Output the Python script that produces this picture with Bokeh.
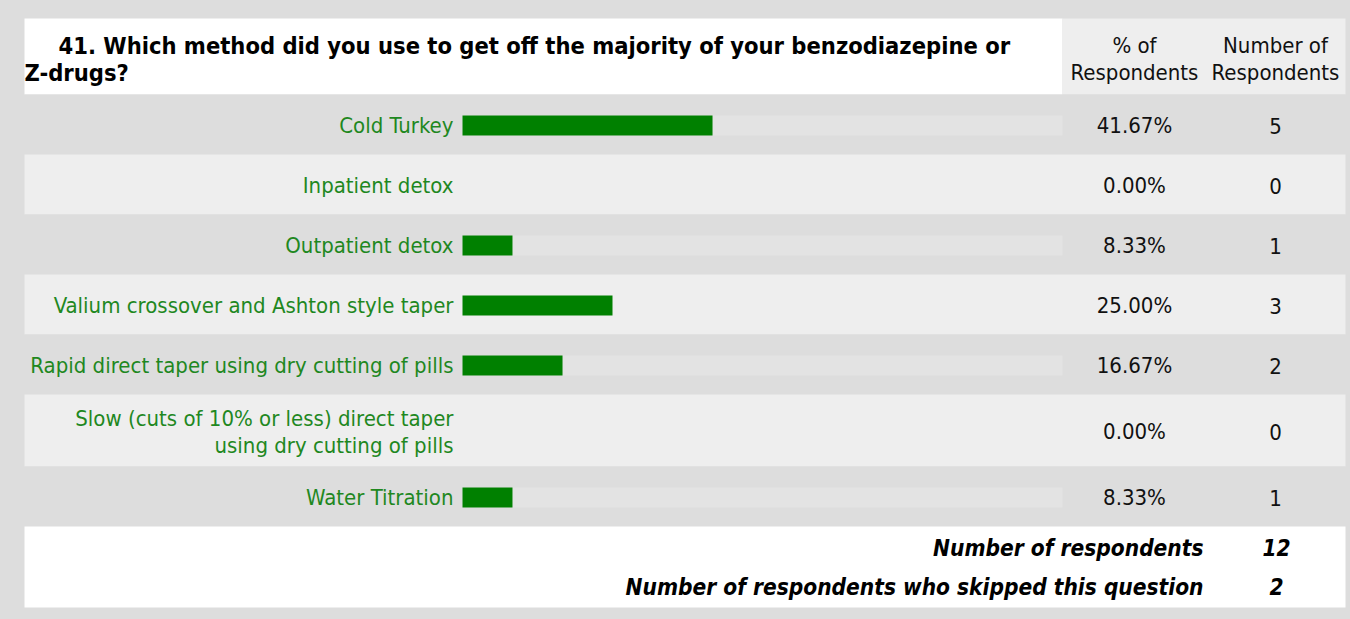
from bokeh.plotting import figure
from bokeh.models import Range1d, ColumnDataSource, GlobalInlineStyleSheet
from bokeh.core.properties import value
from bokeh.embed import file_html
from bokeh.resources import INLINE

# ---------------- data ----------------
question_lines = ["41. Which method did you use to get off the majority of your benzodiazepine or",
                  "Z-drugs?"]
col_headers = [["% of", "Respondents"], ["Number of", "Respondents"]]
categories = [
    "Cold Turkey",
    "Inpatient detox",
    "Outpatient detox",
    "Valium crossover and Ashton style taper",
    "Rapid direct taper using dry cutting of pills",
    "Slow (cuts of 10% or less) direct taper\nusing dry cutting of pills",
    "Water Titration",
]
percents = [41.67, 0.00, 8.33, 25.00, 16.67, 0.00, 8.33]
counts = [5, 0, 1, 3, 2, 0, 1]
footer_labels = ["Number of respondents", "Number of respondents who skipped this question"]
footer_values = [12, 2]

# ---------------- layout constants (page pixels) ----------------
W, H = 1350, 619
TABLE_L, TABLE_R = 24, 1345
HEAD_T, HEAD_B = 18, 94
SPLIT_X = 1062
ROW_H_ONE, ROW_H_TWO = 60, 72
LINE_GAP = 27
LABEL_X = 453
PCT_X, NUM_X = 1134, 1275
BAR_X0, PX_PER_PCT = 462, 6
BAR_H = 20
FOOT_B = 607
FOOT_LABEL_X = 1203
FOOT_NUM_X = 1276

FONT = value("DejaVu Sans Condensed")
FS = "22px"
GREEN_TXT = "#1f881f"
BAR_GREEN = "#008000"
DARK, LIGHT = "#dddddd", "#eeeeee"

p = figure(width=W, height=H, output_backend="svg", toolbar_location=None,
           x_range=Range1d(0, W), y_range=Range1d(H, 0),
           x_axis_type=None, y_axis_type=None, min_border=0)
p.background_fill_color = DARK
p.border_fill_color = DARK
p.outline_line_color = None
p.grid.visible = False
p.stylesheets = [GlobalInlineStyleSheet(css="html, body { background-color: #dddddd; }")]

# percent scale: 0 % at BAR_X0, 6 px per percent
p.extra_x_ranges = {"pct": Range1d(-BAR_X0 / PX_PER_PCT, (W - BAR_X0) / PX_PER_PCT)}

# ---------------- rows geometry ----------------
tops, bottoms, centers, fills, track_alpha = [], [], [], [], []
t = HEAD_B
for i, c in enumerate(categories):
    h = ROW_H_TWO if "\n" in c else ROW_H_ONE
    tops.append(t)
    bottoms.append(t + h)
    centers.append(t + h / 2 + 1)
    fills.append(DARK if i % 2 == 0 else LIGHT)
    track_alpha.append(0.18 if i % 2 == 0 else 0.0)
    t += h
rows_end = t

# header cells
p.quad(left=[TABLE_L, SPLIT_X], right=[SPLIT_X, TABLE_R], top=[HEAD_T, HEAD_T],
       bottom=[HEAD_B, HEAD_B], fill_color=["#ffffff", LIGHT], line_color=None)
# row backgrounds
p.quad(left=[TABLE_L] * len(categories), right=[TABLE_R] * len(categories),
       top=tops, bottom=bottoms, fill_color=fills, line_color=None)
# footer
p.quad(left=[TABLE_L], right=[TABLE_R], top=[rows_end], bottom=[FOOT_B],
       fill_color="#ffffff", line_color=None)

# bars
src = ColumnDataSource(dict(y=centers, pct=percents, full=[100] * len(percents),
                            zero=[0] * len(percents), ta=track_alpha))
p.hbar(y="y", left="zero", right="full", height=BAR_H, source=src, x_range_name="pct",
       fill_color="#ffffff", fill_alpha="ta", line_color=None)
p.hbar(y="y", left="zero", right="pct", height=BAR_H, source=src, x_range_name="pct",
       fill_color=BAR_GREEN, line_color=None)

# labels (multi-line labels split into separate lines)
lx, ly, lt = [], [], []
for c, yc in zip(categories, centers):
    parts = c.split("\n")
    n = len(parts)
    for k, part in enumerate(parts):
        lx.append(LABEL_X)
        ly.append(yc + (k - (n - 1) / 2) * LINE_GAP)
        lt.append(part)
p.text(x=lx, y=ly, text=lt, text_font=FONT, text_font_size=FS, text_color=GREEN_TXT,
       text_align="right", text_baseline="middle")

# values
p.text(x=[PCT_X] * len(percents), y=centers,
       text=[f"{v:.2f}%" for v in percents], text_font=FONT, text_font_size=FS,
       text_color="#111111", text_align="center", text_baseline="middle")
p.text(x=[NUM_X] * len(counts), y=centers,
       text=[str(v) for v in counts], text_font=FONT, text_font_size=FS,
       text_color="#111111", text_align="center", text_baseline="middle")

# header texts
hx, hy, ht = [], [], []
for xc, lines in zip([PCT_X, NUM_X], col_headers):
    for k, line in enumerate(lines):
        hx.append(xc)
        hy.append(45 + k * LINE_GAP)
        ht.append(line)
p.text(x=hx, y=hy, text=ht, text_font=FONT, text_font_size=FS,
       text_color="#111111", text_align="center", text_baseline="middle")
p.text(x=[58, TABLE_L], y=[45, 45 + LINE_GAP], text=question_lines, text_font=FONT,
       text_font_size="23.5px", text_font_style="bold", text_color="#000000",
       text_align="left", text_baseline="middle")

# footer texts
foot_y = [547, 586]
p.text(x=[FOOT_LABEL_X] * 2, y=foot_y, text=footer_labels, text_font=FONT,
       text_font_size="22.5px", text_font_style="bold italic", text_color="#000000",
       text_align="right", text_baseline="middle")
p.text(x=[FOOT_NUM_X] * 2, y=foot_y, text=[str(v) for v in footer_values], text_font=FONT,
       text_font_size="22.5px", text_font_style="bold italic", text_color="#000000",
       text_align="center", text_baseline="middle")

open("out.html", "w").write(file_html(p, INLINE))
